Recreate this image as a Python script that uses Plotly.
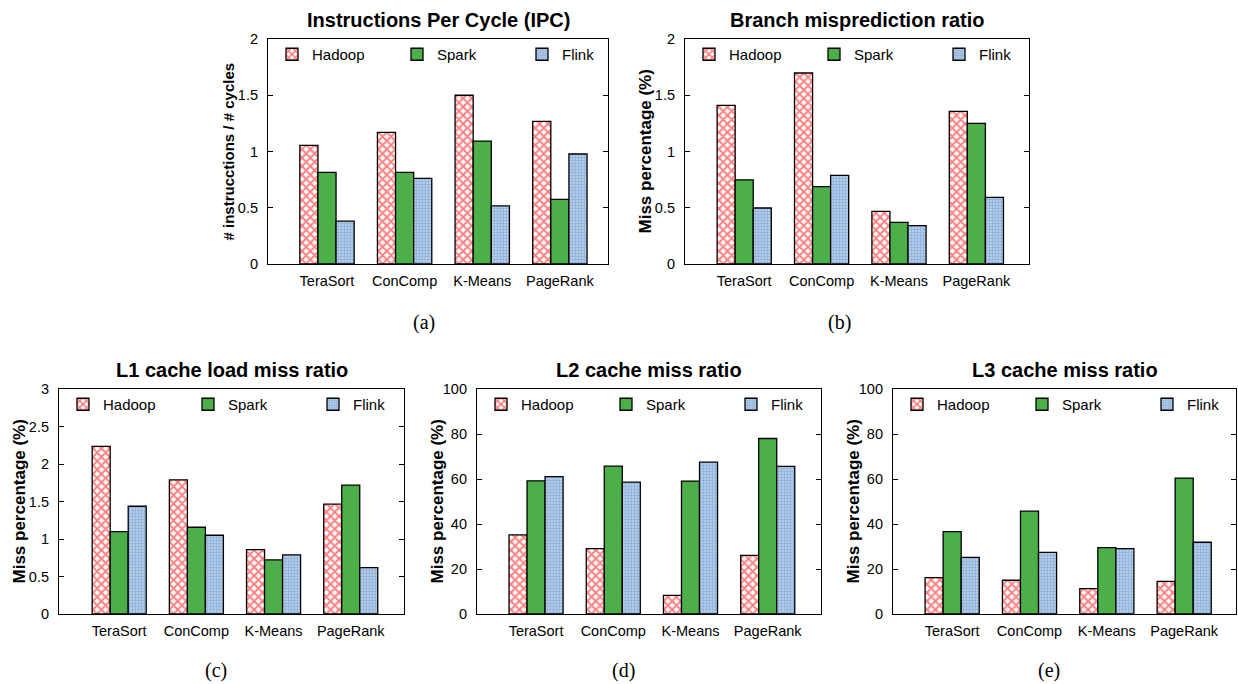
import plotly.graph_objects as go

W, H = 1238, 684

categories = ["TeraSort", "ConComp", "K-Means", "PageRank"]
frameworks = ["Hadoop", "Spark", "Flink"]

ipc = {
    "Hadoop": [1.055, 1.17, 1.50, 1.268],
    "Spark": [0.815, 0.815, 1.093, 0.575],
    "Flink": [0.382, 0.761, 0.516, 0.978],
}
branch = {
    "Hadoop": [1.41, 1.698, 0.468, 1.357],
    "Spark": [0.747, 0.687, 0.370, 1.250],
    "Flink": [0.498, 0.788, 0.341, 0.593],
}
l1 = {
    "Hadoop": [2.234, 1.789, 0.859, 1.464],
    "Spark": [1.099, 1.157, 0.721, 1.718],
    "Flink": [1.437, 1.050, 0.788, 0.619],
}
l2 = {
    "Hadoop": [35.2, 29.1, 8.3, 26.1],
    "Spark": [59.2, 65.7, 59.1, 78.0],
    "Flink": [61.1, 58.6, 67.5, 65.6],
}
l3 = {
    "Hadoop": [16.2, 15.0, 11.3, 14.5],
    "Spark": [36.6, 45.7, 29.5, 60.4],
    "Flink": [25.2, 27.4, 29.1, 31.9],
}

titles = ["Instructions Per Cycle (IPC)", "Branch misprediction ratio",
          "L1 cache load miss ratio", "L2 cache miss ratio", "L3 cache miss ratio"]
ytitles = ["# instrucctions / # cycles", "Miss percentage (%)", "Miss percentage (%)",
           "Miss percentage (%)", "Miss percentage (%)"]
sublabels = ["(a)", "(b)", "(c)", "(d)", "(e)"]
datasets = [ipc, branch, l1, l2, l3]
yranges = [(0, 2, 0.5), (0, 2, 0.5), (0, 3, 0.5), (0, 100, 20), (0, 100, 20)]

# panel geometry in pixels: left, right, top, bottom
boxes = [(268, 608, 39, 264), (685, 1029, 39, 264),
         (59, 404, 389, 614), (477, 821, 389, 614), (893, 1236, 389, 614)]
xranges = [(-0.76, 3.62), (-0.765, 3.68), (-0.78, 3.69), (-0.765, 3.69), (-0.765, 3.67)]
sub_xy = [(424, 322), (840, 322), (216, 670), (623, 670), (1049, 670)]

styles = {
    "Hadoop": dict(color="white", line=dict(color="black", width=1.3),
                   pattern=dict(shape="x", fgcolor="#ff0000", bgcolor="white", size=6, solidity=0.55)),
    "Spark": dict(color="#4daf4a", line=dict(color="black", width=1.3)),
    "Flink": dict(color="white", line=dict(color="black", width=1.3),
                  pattern=dict(shape=".", fgcolor="#2a6ebb", bgcolor="white", size=3, solidity=0.8)),
}

fig = go.Figure()
layout = dict(width=W, height=H, margin=dict(l=0, r=0, t=0, b=0, pad=0, autoexpand=False),
              paper_bgcolor="white", plot_bgcolor="white",
              barmode="group", bargap=0.30, bargroupgap=0.0,
              font=dict(family="Liberation Sans, Arial, sans-serif", color="black"),
              annotations=[])

for i, data in enumerate(datasets):
    n = i + 1
    sfx = "" if n == 1 else str(n)
    l, r, t, b = boxes[i]
    xd = [l / W, r / W]
    yd = [1 - b / H, 1 - t / H]
    for fw in frameworks:
        fig.add_trace(go.Bar(
            x=categories, y=data[fw], name=fw, marker=styles[fw],
            xaxis="x" + sfx, yaxis="y" + sfx, legend="legend" + sfx,
            offsetgroup=fw, showlegend=True,
        ))
    y0, y1, dt = yranges[i]
    layout["xaxis" + sfx] = dict(
        domain=xd, anchor="y" + sfx, type="category", range=list(xranges[i]),
        showline=True, linecolor="black", linewidth=1.2, mirror=True,
        ticks="inside", ticklen=5, tickcolor="black", tickwidth=1,
        showgrid=False, zeroline=False, tickfont=dict(size=14.5, color="black"),
        ticklabelstandoff=3, layer="below traces", automargin=False,
    )
    layout["yaxis" + sfx] = dict(
        domain=yd, anchor="x" + sfx, range=[y0, y1], dtick=dt, tick0=0,
        showline=True, linecolor="black", linewidth=1.2, mirror="allticks",
        ticks="inside", ticklen=5, tickcolor="black", tickwidth=1,
        showgrid=False, zeroline=False, tickfont=dict(size=14.5, color="black"),
        ticklabelstandoff=6, automargin=False,
    )
    layout["legend" + sfx] = dict(
        x=(l + 4) / W, y=(1 - (t - 1) / H), xanchor="left", yanchor="top",
        orientation="h", bgcolor="rgba(0,0,0,0)", borderwidth=0,
        font=dict(size=15, color="black"), entrywidth=80, entrywidthmode="pixels",
        itemwidth=30, traceorder="normal",
    )
    cx = (l + r) / 2
    layout["annotations"].append(dict(
        text="<b>%s</b>" % titles[i], x=cx / W, y=1 - (t - 19) / H, xref="paper", yref="paper",
        xanchor="center", yanchor="middle", showarrow=False, font=dict(size=20, color="black")))
    layout["annotations"].append(dict(
        text="<b>%s</b>" % ytitles[i], x=(l - 40) / W, y=1 - ((t + b) / 2) / H,
        xref="paper", yref="paper", xanchor="center", yanchor="middle", textangle=-90,
        showarrow=False, font=dict(size=15 if i == 0 else 17, color="black")))
    sx, sy = sub_xy[i]
    layout["annotations"].append(dict(
        text=sublabels[i], x=sx / W, y=1 - sy / H, xref="paper", yref="paper",
        xanchor="center", yanchor="middle", showarrow=False,
        font=dict(size=20, family="Liberation Serif, Times New Roman, serif", color="black")))

fig.update_layout(**layout)
fig.write_html(
    "out.html",
    config={"displayModeBar": False},
    post_script="document.documentElement.style.margin='0';document.body.style.margin='0';"
                "document.body.style.padding='0';document.body.style.overflow='hidden';",
)
